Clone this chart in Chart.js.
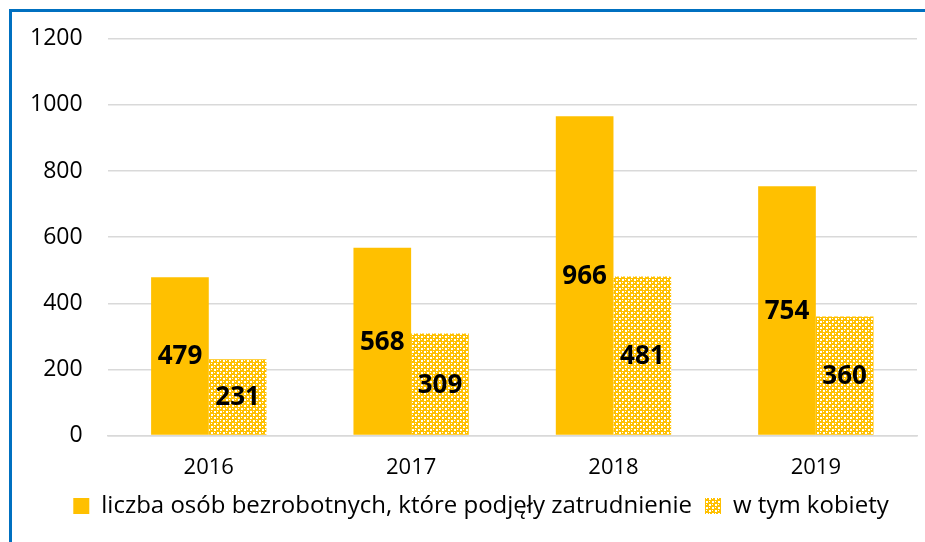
<!DOCTYPE html>
<html>
<head>
<meta charset="utf-8">
<script src="https://cdn.jsdelivr.net/npm/chart.js@4/dist/chart.umd.min.js"></script>
<style>
  html, body { margin: 0; padding: 0; background: #fff; overflow: hidden; }
  #frame {
    position: absolute; left: 9px; top: 9px;
    width: 1000px; height: 1000px;
    border: 3px solid #0070C0;
  }
  #wrap { position: absolute; left: -23px; top: -12px; width: 936px; height: 542px; }
</style>
</head>
<body>
<div id="frame">
  <div id="wrap"><canvas id="chart"></canvas></div>
</div>
<script>
const years = ['2016', '2017', '2018', '2019'];
const employed = [479, 568, 966, 754];
const women = [231, 309, 481, 360];
const seriesNames = ['liczba osób bezrobotnych, które podjęły zatrudnienie', 'w tym kobiety'];

const YELLOW = '#FFC000';

// checkered yellow/white fill like the Excel pattern
function makePattern() {
    const c = document.createElement('canvas');
    c.width = 6; c.height = 6;
    const g = c.getContext('2d');
    g.fillStyle = YELLOW;
    g.fillRect(0, 0, 6, 6);
    g.fillStyle = '#ffffff';
    g.fillRect(0, 0, 2, 2);
    g.fillRect(3, 3, 2, 2);
    g.fillRect(3, 0, 1, 1);
    g.fillRect(0, 3, 1, 1);
    return g.createPattern(c, 'repeat');
}

// value labels centred inside each bar
const barLabels = {
    id: 'barLabels',
    afterDatasetsDraw(chart) {
        const ctx = chart.ctx;
        ctx.save();
        ctx.font = 'bold 26px "Open Sans", sans-serif';
        ctx.fillStyle = '#000';
        ctx.textAlign = 'center';
        ctx.textBaseline = 'middle';
        chart.data.datasets.forEach((ds, i) => {
            chart.getDatasetMeta(i).data.forEach((bar, j) => {
                const p = bar.getProps(['x', 'y', 'base'], true);
                ctx.fillText(ds.data[j], p.x, (p.y + p.base) / 2 + 1);
            });
        });
        ctx.restore();
    }
};

// legend in the original sits a bit right of the canvas centre
const legendShift = {
    id: 'legendShift',
    afterLayout(chart) {
        chart.legend.left += 20;
        chart.legend.right += 20;
    }
};

Chart.defaults.font.family = "'Open Sans', 'Liberation Sans', sans-serif";
Chart.defaults.color = '#000';

new Chart(document.getElementById('chart'), {
    type: 'bar',
    data: {
        labels: years,
        datasets: [{
            label: seriesNames[0],
            data: employed,
            backgroundColor: YELLOW,
            categoryPercentage: 0.57,
            barPercentage: 1.0
        }, {
            label: seriesNames[1],
            data: women,
            backgroundColor: makePattern(),
            categoryPercentage: 0.57,
            barPercentage: 1.0
        }]
    },
    options: {
        responsive: true,
        maintainAspectRatio: false,
        animation: false,
        layout: { padding: { top: 10, right: 8, left: 16, bottom: 14 } },
        plugins: {
            legend: {
                position: 'bottom',
                labels: {
                    boxWidth: 16, boxHeight: 16,
                    font: { size: 24 },
                    padding: 13
                }
            },
            tooltip: { enabled: false }
        },
        scales: {
            x: {
                grid: { display: false, drawTicks: false },
                border: { color: '#d9d9d9', width: 1.5 },
                ticks: { font: { size: 22 }, padding: 19 },
                afterFit: (scale) => { scale.height -= 19; }
            },
            y: {
                min: 0, max: 1200,
                ticks: { stepSize: 200, font: { size: 23 }, padding: 25, callback: v => String(v) },
                grid: { color: '#d9d9d9', lineWidth: 1.5, drawTicks: false },
                border: { display: false }
            }
        }
    },
    plugins: [barLabels, legendShift]
});
</script>
</body>
</html>
